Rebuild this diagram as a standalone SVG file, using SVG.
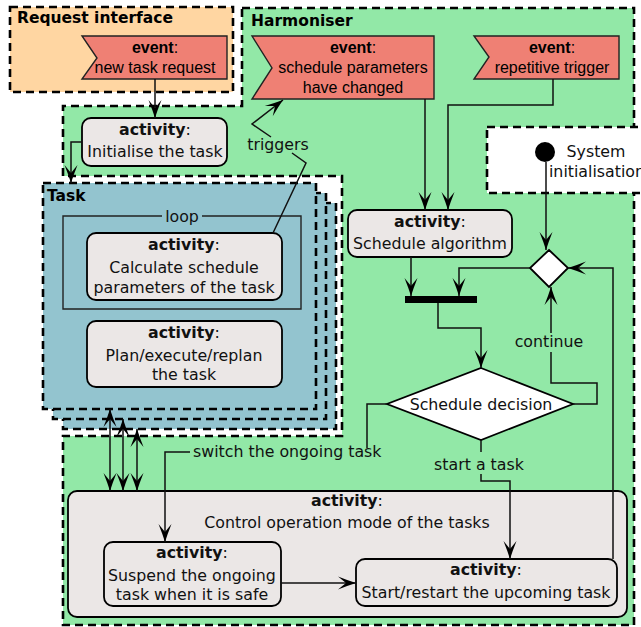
<svg xmlns="http://www.w3.org/2000/svg" width="641" height="627" viewBox="0 0 641 627">
  <style>
    .lane { stroke: #000; stroke-width: 2.6; stroke-dasharray: 8 5; }
    .act { fill: #ebe7e6; stroke: #000; stroke-width: 1.8; }
    .ev { fill: #ef8074; stroke: #222; stroke-width: 1.4; }
    .title { font-family: "DejaVu Sans", sans-serif; font-weight: bold; font-size: 15.5px; fill: #000; }
    .at { font-family: "DejaVu Sans", sans-serif; font-size: 15.8px; fill: #111; text-anchor: middle; }
    .et { font-family: "Liberation Sans", Arial, sans-serif; font-size: 16px; fill: #000; text-anchor: middle; }
    .lbl { font-family: "DejaVu Sans", sans-serif; font-size: 15.8px; fill: #111; }
    .b { font-weight: bold; }
    .con { fill: none; stroke: #111; stroke-width: 1.5; }
  </style>
  <defs>
    <marker id="arr" viewBox="-20 -8 21 16" refX="0" refY="0" markerWidth="21" markerHeight="16" markerUnits="userSpaceOnUse" orient="auto-start-reverse">
      <path d="M0,0 Q-8,-2.5 -18,-6.5 L-10,0 L-18,6.5 Q-8,2.5 0,0 Z" fill="#000"/>
    </marker>
  </defs>

  <!-- swimlanes -->
  <g id="request-interface">
    <rect class="lane" x="10" y="7" width="223" height="85" fill="#ffd6a2"/>
    <text class="title" x="17" y="23">Request interface</text>
  </g>
  <g id="harmoniser">
    <path class="lane" fill="#92e8a7" d="M242,8 H634 V625 H63 V436 H342 V176 H63 V106 H242 Z"/>
    <text class="title" x="251" y="26">Harmoniser</text>
  </g>
  <g id="system-init-area">
    <rect class="lane" x="487" y="127" width="180" height="66" fill="#fff"/>
  </g>

  <!-- task object stack -->
  <g id="task">
    <rect class="lane" x="63" y="203" width="273" height="226" fill="#93c4cf"/>
    <rect class="lane" x="53" y="193" width="273" height="226" fill="#93c4cf"/>
    <rect class="lane" x="43" y="183" width="273" height="226" fill="#93c4cf"/>
    <text class="title" x="47" y="201">Task</text>
  </g>
  <g id="loop">
    <path d="M162,216 H63 V309 H301 V216 H202" fill="none" stroke="#222" stroke-width="1.4"/>
    <text class="lbl" x="182" y="222" text-anchor="middle">loop</text>
  </g>

  <!-- events -->
  <g id="ev-new-task">
    <polygon class="ev" points="82,36 227,36 227,79 82,79 97,58"/>
    <text class="et" x="155" y="53"><tspan class="b">event</tspan>:</text>
    <text class="et" x="155" y="73">new task request</text>
  </g>
  <g id="ev-params-changed">
    <polygon class="ev" points="252,36 434,36 434,99 252,99 272,68"/>
    <text class="et" x="353" y="53"><tspan class="b">event</tspan>:</text>
    <text class="et" x="353" y="73">schedule parameters</text>
    <text class="et" x="353" y="93">have changed</text>
  </g>
  <g id="ev-repetitive">
    <polygon class="ev" points="474,36 619,36 619,79 474,79 489,57"/>
    <text class="et" x="552" y="53"><tspan class="b">event</tspan>:</text>
    <text class="et" x="552" y="73">repetitive trigger</text>
  </g>

  <!-- activities -->
  <g id="act-init">
    <rect class="act" x="82" y="118" width="145" height="48" rx="9"/>
    <text class="at" x="155" y="135"><tspan class="b">activity</tspan>:</text>
    <text class="at" x="155" y="157">Initialise the task</text>
  </g>
  <g id="act-calc">
    <rect class="act" x="87" y="233" width="195" height="67" rx="9"/>
    <text class="at" x="184" y="250"><tspan class="b">activity</tspan>:</text>
    <text class="at" x="184" y="273">Calculate schedule</text>
    <text class="at" x="184" y="293">parameters of the task</text>
  </g>
  <g id="act-plan">
    <rect class="act" x="87" y="321" width="195" height="66" rx="9"/>
    <text class="at" x="184" y="338"><tspan class="b">activity</tspan>:</text>
    <text class="at" x="184" y="361">Plan/execute/replan</text>
    <text class="at" x="184" y="380">the task</text>
  </g>
  <g id="act-schedule">
    <rect class="act" x="348" y="210" width="164" height="47" rx="9"/>
    <text class="at" x="430" y="227"><tspan class="b">activity</tspan>:</text>
    <text class="at" x="430" y="249">Schedule algorithm</text>
  </g>
  <g id="act-control">
    <rect class="act" x="68" y="491" width="559" height="126" rx="9"/>
    <text class="at" x="347" y="506"><tspan class="b">activity</tspan>:</text>
    <text class="at" x="347" y="528">Control operation mode of the tasks</text>
  </g>
  <g id="act-suspend">
    <rect class="act" x="104" y="542" width="177" height="64" rx="9"/>
    <text class="at" x="192" y="558"><tspan class="b">activity</tspan>:</text>
    <text class="at" x="192" y="581">Suspend the ongoing</text>
    <text class="at" x="192" y="600">task when it is safe</text>
  </g>
  <g id="act-start">
    <rect class="act" x="356" y="559" width="261" height="47" rx="9"/>
    <text class="at" x="486" y="575"><tspan class="b">activity</tspan>:</text>
    <text class="at" x="486" y="598">Start/restart the upcoming task</text>
  </g>

  <!-- control nodes -->
  <g id="initial-node">
    <circle cx="545" cy="152" r="10" fill="#000"/>
    <text class="lbl" x="596" y="157" text-anchor="middle">System</text>
    <text class="lbl" x="597" y="177" text-anchor="middle">initialisation</text>
  </g>
  <g id="merge">
    <polygon points="549,250 568,268 549,287 530,268" fill="#fff" stroke="#000" stroke-width="1.8"/>
  </g>
  <g id="join-bar">
    <rect x="405" y="296" width="72" height="7" fill="#000"/>
  </g>
  <g id="decision">
    <polygon points="481,368 573,404 481,440 387,404" fill="#fff" stroke="#000" stroke-width="1.8"/>
    <text class="at" x="481" y="410">Schedule decision</text>
  </g>

  <!-- connectors -->
  <g id="connectors">
    <path class="con" d="M155,79 V118" marker-end="url(#arr)"/>
    <path class="con" d="M82,142 H71 V183" marker-end="url(#arr)"/>
    <path class="con" d="M273,233 L306,163 L292,153"/>
    <path class="con" d="M271,137 L252,124 L283,100" marker-end="url(#arr)"/>
    <text class="lbl" x="278" y="150" text-anchor="middle">triggers</text>
    <path class="con" d="M425,99 V210" marker-end="url(#arr)"/>
    <path class="con" d="M553,79 V105 H448 V210" marker-end="url(#arr)"/>
    <path class="con" d="M546,162 V250" marker-end="url(#arr)"/>
    <path class="con" d="M411,257 V296" marker-end="url(#arr)"/>
    <path class="con" d="M530,268 H459 V296" marker-end="url(#arr)"/>
    <path class="con" d="M438,303 V328 H481 V368" marker-end="url(#arr)"/>
    <path class="con" d="M573,404 H597 V383 H551 V352"/>
    <path class="con" d="M551,333 V287" marker-end="url(#arr)"/>
    <text class="lbl" x="549" y="347" text-anchor="middle">continue</text>
    <path class="con" d="M481,440 V452"/>
    <path class="con" d="M481,474 V481 H510 V559" marker-end="url(#arr)"/>
    <text class="lbl" x="479" y="470" text-anchor="middle">start a task</text>
    <path class="con" d="M387,404 H367 V448"/>
    <path class="con" d="M190,452 H165 V542" marker-end="url(#arr)"/>
    <text class="lbl" x="193" y="457">switch the ongoing task</text>
    <path class="con" d="M281,583 H356" marker-end="url(#arr)"/>
    <path class="con" d="M613,559 V268 H568" marker-end="url(#arr)"/>
    <path class="con" d="M110,409 V491" marker-start="url(#arr)" marker-end="url(#arr)"/>
    <path class="con" d="M123,419 V491" marker-start="url(#arr)" marker-end="url(#arr)"/>
    <path class="con" d="M137,429 V491" marker-start="url(#arr)" marker-end="url(#arr)"/>
  </g>
</svg>
